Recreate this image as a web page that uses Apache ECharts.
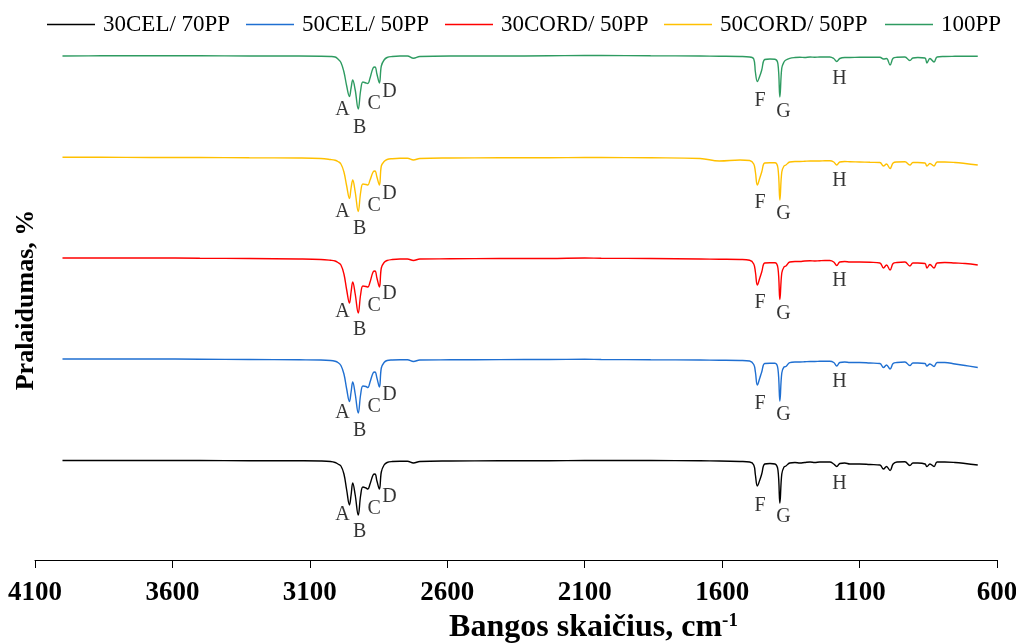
<!DOCTYPE html>
<html>
<head>
<meta charset="utf-8">
<script src="https://cdn.jsdelivr.net/npm/echarts@6/dist/echarts.min.js"></script>
<style>html,body{margin:0;padding:0;background:#fff}#chart{width:1016px;height:644px}</style>
</head>
<body>
<div id="chart"></div>
<script>
const wavenumbers = [4000,3860,3680,3500,3320,3140,3060,3025,3008,2998,
 2987,2976,2966,2956,2950,2944,2935,2924,2915,2907,
 2896,2889,2881,2870,2863,2856,2847,2840,2830,2819,
 2800,2772,2745,2723,2700,2590,2410,2230,2100,2040,
 1860,1680,1610,1535,1500,1485,1479,1472,1463,1456,
 1445,1426,1408,1397,1390,1383,1375,1368,1354,1335,
 1317,1300,1280,1263,1245,1226,1208,1194,1183,1172,
 1154,1135,1100,1062,1026,1013,1002,989,978,964,
 935,917,906,888,862,855,844,829,818,790,
 753,716,670];

const cel30pp70 = [19.9,19.9,19.9,19.9,19.86,19.84,19.8,19.7,19.5,19.2,
 18.8,17.2,14.0,11.0,13.0,15.4,13.0,9.0,13.0,14.6,
 14.4,14.2,15.2,17.0,17.2,15.8,14.2,17.6,19.0,19.5,
 19.7,19.76,19.76,19.4,19.7,19.8,19.84,19.84,19.9,19.9,
 19.9,19.84,19.8,19.7,19.6,19.0,17.0,14.8,16.0,17.2,
 19.2,19.3,19.2,18.0,11.4,17.2,18.6,18.8,19.4,19.5,
 19.4,19.5,19.6,19.5,19.6,19.6,19.6,19.2,18.7,19.3,
 19.4,19.2,19.2,19.1,19.0,18.2,18.7,17.9,19.2,19.6,
 19.64,18.9,19.4,19.4,19.2,18.7,19.2,18.7,19.6,19.6,
 19.5,19.3,19.0];

const cel50pp50 = [40.2,40.2,40.2,40.16,40.1,40.04,40.0,39.9,39.74,39.5,
 38.9,37.2,34.2,31.7,33.6,35.6,33.2,29.4,33.2,34.8,
 34.7,34.5,35.6,37.4,37.6,36.4,34.6,38.4,39.5,39.9,
 40.0,40.04,40.04,39.7,40.0,40.04,40.08,40.1,40.14,40.1,
 40.04,40.0,39.96,39.9,39.8,39.1,37.6,35.0,36.4,37.6,
 39.3,39.34,39.34,38.2,31.8,37.4,38.6,38.7,39.46,39.6,
 39.6,39.64,39.7,39.7,39.74,39.76,39.76,39.5,38.8,39.5,
 39.6,39.5,39.5,39.4,39.3,38.5,39.0,38.2,39.3,39.5,
 39.6,38.9,39.4,39.4,39.3,38.8,39.2,38.7,39.5,39.5,
 39.2,38.9,38.5];

const cord30pp50 = [60.4,60.4,60.4,60.36,60.3,60.2,60.1,59.94,59.8,59.5,
 59.0,57.2,54.0,51.4,53.6,55.6,53.2,49.4,53.2,54.8,
 54.7,54.6,55.6,57.6,57.8,56.4,54.6,58.4,59.5,59.9,
 60.1,60.2,60.2,59.9,60.2,60.24,60.3,60.3,60.4,60.36,
 60.3,60.2,60.16,60.1,59.94,59.2,57.6,55.0,56.4,57.6,
 59.4,59.46,59.46,58.4,52.1,57.4,58.6,58.8,59.6,59.7,
 59.7,59.8,59.84,59.8,59.86,59.9,59.9,59.6,58.9,59.6,
 59.7,59.6,59.6,59.54,59.4,58.4,59.0,58.0,59.3,59.5,
 59.6,58.8,59.4,59.4,59.3,58.4,59.1,58.4,59.4,59.5,
 59.4,59.3,59.0];

const cord50pp50 = [80.54,80.54,80.5,80.5,80.44,80.4,80.3,80.1,79.94,79.7,
 79.2,77.6,74.8,72.3,74.4,76.0,73.6,69.7,73.6,75.2,
 75.1,75.0,76.0,77.6,77.8,76.6,75.0,78.8,79.7,80.1,
 80.26,80.34,80.34,80.0,80.3,80.4,80.44,80.44,80.5,80.5,
 80.44,80.3,79.8,80.0,79.9,79.2,77.6,75.0,76.4,77.6,
 79.4,79.46,79.46,78.4,72.0,77.6,78.8,79.0,79.6,79.7,
 79.7,79.74,79.8,79.8,79.8,79.86,79.86,79.6,79.0,79.6,
 79.7,79.64,79.6,79.54,79.5,78.8,79.2,78.3,79.4,79.6,
 79.64,79.0,79.5,79.5,79.4,78.8,79.3,78.8,79.6,79.6,
 79.5,79.3,79.0];

const pp100 = [100.8,100.84,100.84,100.84,100.8,100.8,100.76,100.7,100.6,100.2,
 99.5,97.6,94.8,92.7,94.4,96.0,94.0,90.2,94.0,95.6,
 95.4,95.3,96.4,98.4,98.6,97.2,95.4,98.8,100.0,100.5,
 100.7,100.8,100.8,100.34,100.7,100.8,100.8,100.84,100.9,100.9,
 100.84,100.8,100.76,100.7,100.6,100.2,97.6,95.7,96.8,98.0,
 100.1,100.2,100.14,99.2,92.6,98.4,99.6,100.0,100.34,100.5,
 100.54,100.5,100.6,100.54,100.6,100.6,100.6,100.3,99.7,100.3,
 100.5,100.5,100.54,100.54,100.56,100.2,100.3,99.0,100.34,100.54,
 100.6,99.9,100.4,100.5,100.4,99.4,100.3,99.6,100.6,100.7,
 100.74,100.76,100.74];

const seriesNames = ['30CEL/ 70PP', '50CEL/ 50PP', '30CORD/ 50PP', '50CORD/ 50PP', '100PP'];
const seriesValues = [cel30pp70, cel50pp50, cord30pp50, cord50pp50, pp100];
const seriesColors = ['#000000', '#1f6fd1', '#ff0000', '#ffc000', '#2e9b61'];

const xTickLabels = [4100, 3600, 3100, 2600, 2100, 1600, 1100, 600];

const peakNames = ['A', 'B', 'C', 'D', 'F', 'G', 'H'];
const peakLabelWn = [2981, 2919, 2866, 2810, 1462, 1377, 1173];
const peakLabelDrop = [10.8, 14.3, 9.6, 7.2, 9.0, 11.2, 4.6];

const FONT = '"Liberation Serif", "Times New Roman", serif';
const legendLefts = [47, 246, 445, 664, 885];

const lineSeries = seriesNames.map((name, k) => ({
  name: name,
  type: 'line',
  data: wavenumbers.map((w, i) => [w, seriesValues[k][i]]),
  symbol: 'none',
  smooth: 0.4,
  lineStyle: { color: seriesColors[k], width: 1.4 },
  itemStyle: { color: seriesColors[k] },
  z: 3,
  silent: true
}));

const labelData = [];
seriesValues.forEach(vals => {
  const base = vals[0];
  peakNames.forEach((p, j) => {
    labelData.push({ value: [peakLabelWn[j], base - peakLabelDrop[j]], name: p });
  });
});

const legends = seriesNames.map((n, k) => ({
  data: [n],
  top: 13,
  left: legendLefts[k],
  padding: 0,
  icon: 'rect',
  itemWidth: 48,
  itemHeight: 1.5,
  textStyle: { fontFamily: FONT, fontSize: 23, color: '#000', padding: [0, 0, 0, 3] }
}));

const chart = echarts.init(document.getElementById('chart'), null, { renderer: 'canvas' });
chart.setOption({
  backgroundColor: '#ffffff',
  animation: false,
  legend: legends,
  grid: { left: 35, right: 19, top: 40, bottom: 84, outerBoundsMode: 'none', containLabel: false },
  xAxis: {
    type: 'value',
    min: 600,
    max: 4100,
    inverse: true,
    splitLine: { show: false },
    axisLine: { show: true, lineStyle: { color: '#000', width: 1 } },
    axisTick: { show: true, length: 8, lineStyle: { color: '#000' }, customValues: xTickLabels },
    axisLabel: {
      customValues: xTickLabels,
      formatter: v => String(v),
      fontFamily: FONT, fontWeight: 'bold', fontSize: 27, color: '#000', margin: 20
    },
    name: 'Bangos skaičius, cm{sup|-1}',
    nameLocation: 'middle',
    nameGap: 50,
    nameTextStyle: {
      fontFamily: FONT, fontWeight: 'bold', fontSize: 32, color: '#000',
      padding: [0, 0, 0, 155],
      rich: { sup: { fontFamily: FONT, fontWeight: 'bold', fontSize: 19, color: '#000', verticalAlign: 'top', lineHeight: 32 } }
    }
  },
  yAxis: {
    type: 'value',
    min: 0,
    max: 104,
    axisLine: { show: false },
    axisTick: { show: false },
    axisLabel: { show: false },
    splitLine: { show: false },
    name: 'Pralaidumas, %',
    nameLocation: 'middle',
    nameGap: -4,
    nameTextStyle: { fontFamily: FONT, fontWeight: 'bold', fontSize: 26, color: '#000' }
  },
  series: lineSeries.concat([{
    name: 'peaks',
    type: 'scatter',
    data: labelData,
    symbolSize: 1,
    itemStyle: { color: 'rgba(0,0,0,0)' },
    silent: true,
    z: 4,
    label: {
      show: true,
      position: 'inside',
      formatter: p => p.name,
      fontFamily: FONT, fontSize: 20, color: '#000'
    }
  }])
});
</script>
</body>
</html>
